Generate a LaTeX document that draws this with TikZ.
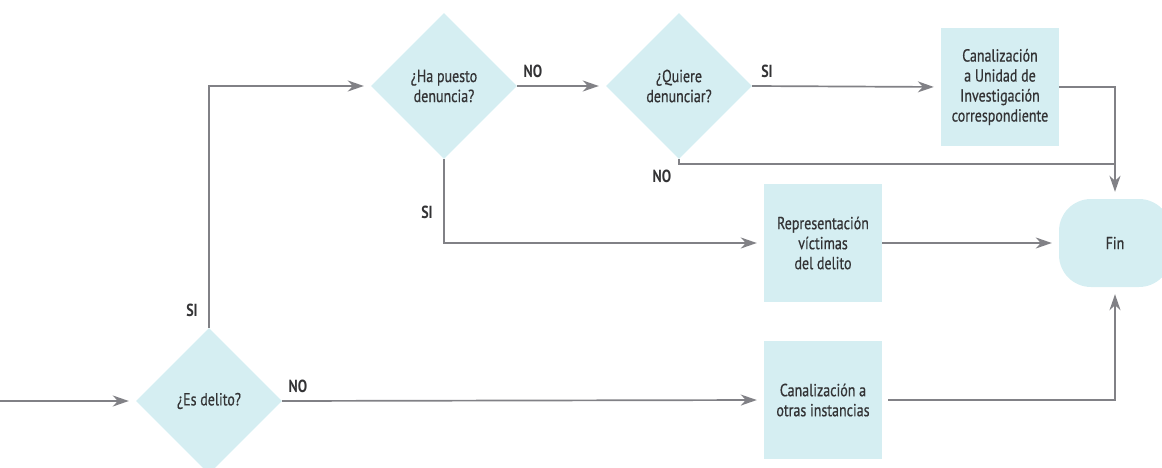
\documentclass[tikz,border=0pt]{standalone}
\usepackage{fontspec}
\setmainfont{PT Sans}[FakeStretch=0.8]
\newfontfamily\bodyfont{PT Sans}[FakeStretch=0.8,FakeBold=0.6]
\usetikzlibrary{shapes.geometric,arrows.meta}
\definecolor{boxfill}{HTML}{D5EEF2}
\definecolor{linegray}{HTML}{818186}
\definecolor{txt}{HTML}{333335}
\tikzset{
  x=1pt,y=-1pt,
  dec/.style={diamond,aspect=1,fill=boxfill,minimum width=146pt,minimum height=146pt,inner sep=0pt,align=center,text=txt,font=\bodyfont\fontsize{17.5}{20}\selectfont},
  sq/.style={rectangle,fill=boxfill,minimum width=118pt,minimum height=118pt,inner sep=0pt,align=center,text=txt,font=\bodyfont\fontsize{17.5}{20}\selectfont},
  term/.style={rectangle,rounded corners=32pt,fill=boxfill,minimum width=112pt,minimum height=88pt,inner sep=0pt,text=txt,font=\bodyfont\fontsize{17.5}{20}\selectfont},
  conn/.style={draw=linegray,line width=1.7pt},
  arr/.style={conn,-{Stealth[length=16pt,width=11pt,inset=5pt]},shorten >=7pt},
  lbl/.style={text=txt,font=\bfseries\fontsize{17.5}{20}\selectfont,inner sep=0pt}
}
\begin{document}
\begin{tikzpicture}
\useasboundingbox (0,0) rectangle (1162,468);
\clip (0,0) rectangle (1162,468);
\node[dec] (d1) at (209,401) {¿Es delito?};
\node[dec] (d2) at (444,86) {¿Ha puesto\\denuncia?};
\node[dec] (d3) at (679,86) {¿Quiere\\denunciar?};
\node[sq] (b1) at (1000,87) {Canalización\\a Unidad de\\Investigación\\correspondiente};
\node[sq] (b2) at (823,243) {Representación\\víctimas\\del delito};
\node[sq] (b3) at (823,400) {Canalización a\\otras instancias};
\node[term] (fin) at (1115,243) {Fin};
\coordinate (start) at (0,401);
\coordinate (j) at (1115,164);
\draw[arr] (start) -- (d1.west);
\draw[arr] (d1.north) |- (d2.west);
\draw[arr] (d2.east) -- (d3.west);
\draw[arr] (d3.east) -- (b1.west);
\draw[arr] (b1.east) -| (fin.north);
\draw[conn] (d3.south) |- (j);
\draw[arr] (d2.south) |- (b2.west);
\draw[arr] (b2.east) -- (fin.west);
\draw[arr] (d1.east) -- (b3.west);
\draw[arr] ([xshift=6pt]b3.east) -| (fin.south);
\node[lbl] (l1) at (192,310) {SI};
\node[lbl] (l2) at (298,386) {NO};
\node[lbl] (l3) at (533,71) {NO};
\node[lbl] (l4) at (767,71) {SI};
\node[lbl] (l5) at (427,212) {SI};
\node[lbl] (l6) at (662,176) {NO};
\end{tikzpicture}
\end{document}
